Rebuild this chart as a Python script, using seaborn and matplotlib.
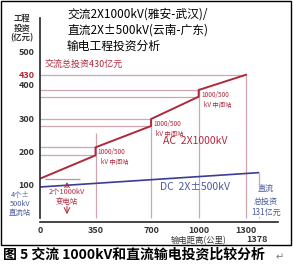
import numpy as np
import pandas as pd
import matplotlib
matplotlib.use("Agg")
import matplotlib.pyplot as plt
import seaborn as sns
from matplotlib.patches import Rectangle

# данные
ac_km = [0, 350, 350, 700, 700, 1000, 1000, 1300]
ac_cost = [118, 188, 212, 276, 297, 364, 384, 430]
dc_km = [0, 1378]
dc_cost = [93, 136]
step_km = [350, 700, 1000]
step_low = [188, 276, 364]
step_high = [212, 297, 384]
step_top = [255, 300, 390]
x_ticks = [0, 350, 700, 1000, 1300]
y_ticks = [100, 200, 300, 400, 430, 500]
ac_total = 430
ac_len = 1300
dc_len = 1378

sns.set_style("white")
plt.rcParams['font.family'] = ['Noto Sans CJK SC', 'DejaVu Sans']

RED = "#b0283c"
GRID = "#cfa6ae"
BLUE = "#3c3c96"
BLUE_T = "#4a5a9c"

fig = plt.figure(figsize=(2.93, 2.65), dpi=100)
ax = fig.add_axes([40/293, 1-222/265, 238/293, 204/265])

# вспомогательные линии
ax.hlines([ac_total], 0, ac_len, color=GRID, lw=0.9)
for k, lo, hi, top in zip(step_km, step_low, step_high, step_top):
    ax.hlines([lo, hi], 0, k, color=GRID, lw=0.9)
    ax.vlines(k, 0, top, color=GRID, lw=0.9)
ax.vlines(ac_len, 0, ac_total, color=GRID, lw=0.9)
ax.vlines(dc_len, 0, dc_cost[-1], color=GRID, lw=0.9)
ax.hlines(ac_cost[0], 30, 250, color="#a0a0a0", lw=0.9)

# линии AC и DC
sns.lineplot(x=ac_km, y=ac_cost, estimator=None, sort=False, color=RED, lw=1.4, ax=ax)
sns.lineplot(x=dc_km, y=dc_cost, estimator=None, sort=False, color=BLUE, lw=1.2, ax=ax)

ax.set_xlim(0, 1500)
ax.set_ylim(-12, 600)
sns.despine(ax=ax)
ax.spines['left'].set_linewidth(1.2)
ax.spines['bottom'].set_linewidth(1.2)
ax.spines['left'].set_bounds(0, 600)

ax.set_yticks(y_ticks)
ax.set_yticklabels([str(v) for v in y_ticks], fontsize=6.5, fontweight='bold', color="#333333")
ax.get_yticklabels()[4].set_color(RED)
ax.tick_params(axis='y', length=3, width=0.8, pad=1, color="#333333")
ax.set_xticks(x_ticks)
ax.set_xticklabels([str(v) for v in x_ticks], fontsize=6.5, fontweight='bold', color="#333333")
ax.tick_params(axis='x', length=0, pad=3)
ax.text(dc_len - 10, -66, str(dc_len), fontsize=6.5, fontweight='bold', color="#333333",
        ha='center', va='center')
ax.text(1000, -68, "输电距离(公里)", fontsize=6, color="#333333", ha='center', va='center')

# подписи
ax.text(30, 462, "交流总投资430亿元", fontsize=6.5, color=RED, ha='left', va='center')
for k, hi in zip(step_km, step_high):
    ax.text(k + 15, hi - 2, "1000/500\n  kV 中间站", fontsize=4.6, color=RED,
            ha='left', va='top', linespacing=1.4)
ax.text(980, 232, "AC  2X1000kV", fontsize=7.5, color=RED, ha='center', va='center')
ax.text(980, 92, "DC  2X±500kV", fontsize=7.5, color=BLUE_T, ha='center', va='center')
ax.text(1425, 98, "直流\n总投资\n131亿元", fontsize=5.8, color=BLUE_T, ha='center', va='top',
        linespacing=1.3, bbox=dict(facecolor='white', edgecolor='none', pad=0.5))

ax.annotate("", xy=(170, 3), xytext=(170, 116),
            arrowprops=dict(arrowstyle='<->', color=RED, lw=0.7))
ax.text(170, 63, "2个1000kV\n变电站", fontsize=5.3, color=RED, ha='center', va='center',
        linespacing=1.2, bbox=dict(facecolor='white', edgecolor='none', pad=0.5))

fig.text(20/293, 1-204/265, "4个±\n500kV\n直流站", fontsize=5.3, color=BLUE_T,
         ha='center', va='center', linespacing=1.2)
fig.text(22/293, 1-28/265, "工程\n投资\n(亿元)", fontsize=6, fontweight='bold', color="#333333",
         ha='center', va='center', linespacing=1.1)
fig.text(67/293, 1-8/265, "交流2X1000kV(雅安-武汉)/\n直流2X±500kV(云南-广东)\n输电工程投资分析",
         fontsize=8.5, color="black", ha='left', va='top', linespacing=1.3)

# рамка и подпись рисунка
fig.patches.append(Rectangle((1/293, 1-245/265), 290/293, 244/265, transform=fig.transFigure,
                             fill=False, edgecolor='black', lw=1))
fig.text(3/293, 1-255/265, "图 5 交流 1000kV和直流输电投资比较分析", fontsize=10,
         fontweight='bold', color="black", ha='left', va='center')
fig.text(280/293, 1-257/265, "↵", fontsize=7, color="#777777", ha='center', va='center',
         family='DejaVu Sans')

fig.savefig("out.png", dpi=100)
